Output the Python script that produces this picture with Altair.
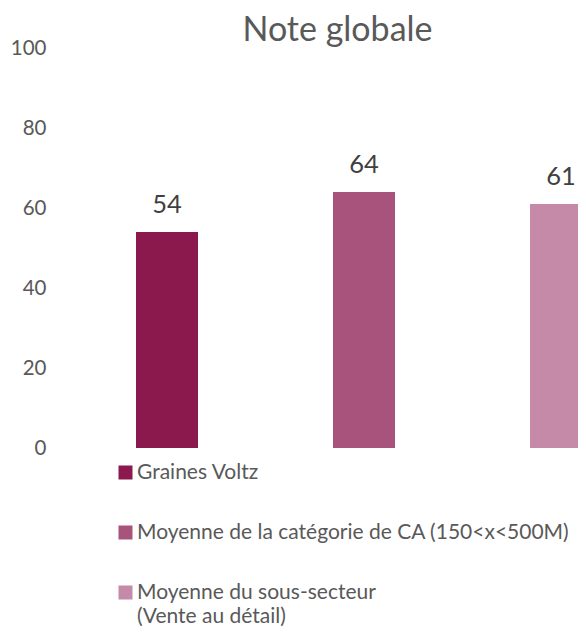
import altair as alt
import pandas as pd

categories = [
    "Graines Voltz",
    "Moyenne de la catégorie de CA (150<x<500M)",
    "Moyenne du sous-secteur (Vente au détail)",
]
values = [54, 64, 61]
colors = ["#8C194D", "#A8537B", "#C58AA7"]
y_ticks = [0, 20, 40, 60, 80, 100]
title_text = "Note globale"

df = pd.DataFrame({"cat": categories, "val": values})

FONT = "Lato"
GREY = "#595959"

label_expr = (
    "datum.label == '" + categories[2] + "' ? "
    "['Moyenne du sous-secteur', '(Vente au détail)'] : datum.label"
)

base = alt.Chart(df).encode(
    x=alt.X(
        "cat:N",
        sort=categories,
        scale=alt.Scale(range=[81, 537], paddingInner=0.6853, paddingOuter=0),
        axis=None,
    ),
    y=alt.Y(
        "val:Q",
        scale=alt.Scale(domain=[0, 100], nice=False),
        axis=alt.Axis(
            values=y_ticks,
            title=None,
            grid=False,
            domain=False,
            ticks=False,
            tickSize=0,
            labelPadding=9,
            labelFont=FONT,
            labelFontSize=20.5,
            labelColor=GREY,
            minExtent=47,
            maxExtent=47,
        ),
    ),
)

bars = base.mark_bar(clip=True).encode(
    color=alt.Color(
        "cat:N",
        sort=categories,
        scale=alt.Scale(domain=categories, range=colors),
        title=None,
        legend=alt.Legend(
            orient="none",
            legendX=60,
            legendY=414,
            direction="vertical",
            symbolType="square",
            symbolSize=196,
            symbolStrokeWidth=0,
            labelFont=FONT,
            labelFontSize=21,
            labelColor=GREY,
            labelLimit=700,
            labelOffset=1,
            labelBaseline="middle",
            rowPadding=38,
            padding=0,
            labelExpr=label_expr,
        ),
    )
)

text = base.mark_text(
    baseline="alphabetic",
    dy=-19.5,
    font=FONT,
    fontSize=25.5,
    color="#404040",
).encode(text=alt.Text("val:Q"))

chart = (
    alt.layer(bars, text)
    .properties(
        width=523,
        height=400,
        padding={"left": 0, "top": 5, "right": 0, "bottom": 0},
        title=alt.TitleParams(
            title_text,
            font=FONT,
            fontSize=34,
            fontWeight="normal",
            color=GREY,
            anchor="middle",
            frame="group",
            dx=21,
            offset=-9.75,
        ),
    )
    .configure(style={"guide-label": {"lineHeight": 24}})
    .configure_view(stroke=None)
)

chart.save("out.html", embed_options={"renderer": "svg", "actions": False})
